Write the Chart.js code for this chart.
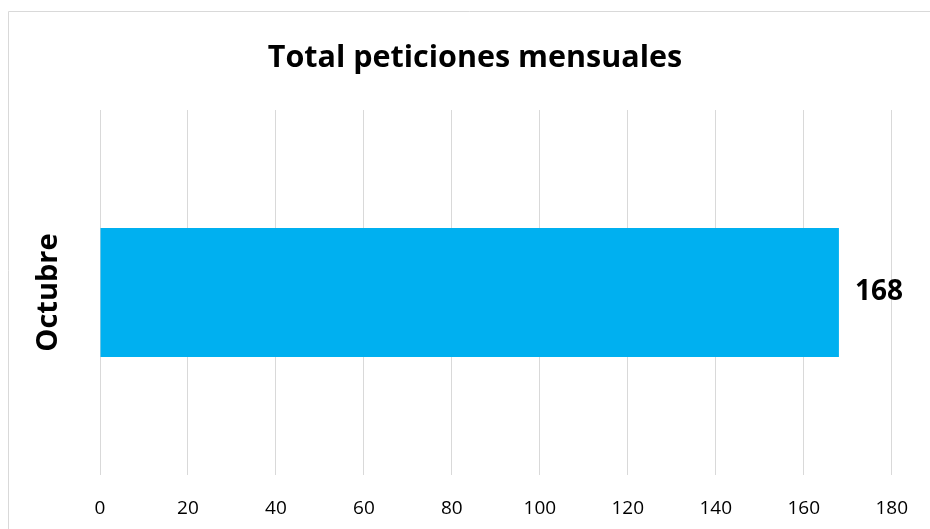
<!DOCTYPE html>
<html>
<head>
<meta charset="utf-8">
<script src="https://cdn.jsdelivr.net/npm/chart.js@4"></script>
<style>
  html, body { margin: 0; padding: 0; background: #fff; }
  #wrap { width: 930px; height: 529px; position: relative; }
</style>
</head>
<body>
<div id="wrap"><canvas id="c" width="930" height="529"></canvas></div>
<script>
const categories = ["Octubre"];
const values = [168];
const xTicks = { min: 0, max: 180, step: 20 };
const chartTitle = "Total peticiones mensuales";

const FONT = "'Open Sans', sans-serif";

const framePlugin = {
  id: 'frame',
  beforeDraw(chart) {
    const ctx = chart.ctx;
    ctx.save();
    ctx.strokeStyle = '#d9d9d9';
    ctx.lineWidth = 1;
    ctx.beginPath();
    ctx.moveTo(8.5, 529);
    ctx.lineTo(8.5, 11.5);
    ctx.lineTo(930, 11.5);
    ctx.stroke();
    ctx.restore();
  }
};

const labelPlugin = {
  id: 'labels',
  afterDatasetsDraw(chart) {
    const ctx = chart.ctx;
    const meta = chart.getDatasetMeta(0);
    const yScale = chart.scales.y;
    ctx.save();
    ctx.fillStyle = '#000';
    ctx.font = "bold 28px " + FONT;
    ctx.textAlign = 'left';
    ctx.textBaseline = 'middle';
    meta.data.forEach((bar, i) => {
      ctx.fillText(String(values[i]), bar.x + 16, bar.y);
    });
    ctx.font = "bold 29px " + FONT;
    categories.forEach((cat, i) => {
      const y = yScale.getPixelForValue(i);
      ctx.save();
      ctx.translate(49, y);
      ctx.rotate(-Math.PI / 2);
      ctx.textAlign = 'center';
      ctx.textBaseline = 'middle';
      ctx.fillText(cat, 0, 0);
      ctx.restore();
    });
    ctx.restore();
  }
};

new Chart(document.getElementById('c'), {
  type: 'bar',
  data: {
    labels: categories,
    datasets: [{
      data: values,
      backgroundColor: '#00B0F0',
      borderWidth: 0,
      barPercentage: 0.353,
      categoryPercentage: 1.0
    }]
  },
  options: {
    indexAxis: 'y',
    responsive: false,
    animation: false,
    devicePixelRatio: 1,
    layout: { padding: { left: 58, right: 38, top: 0, bottom: 0 } },
    plugins: {
      legend: { display: false },
      tooltip: { enabled: false },
      title: {
        display: true,
        text: chartTitle,
        color: '#000',
        font: { family: FONT, size: 30.5, weight: 'bold', lineHeight: 1.2 },
        padding: { top: 40.5, bottom: 32.9 }
      }
    },
    scales: {
      x: {
        min: xTicks.min,
        max: xTicks.max,
        afterFit(scale) { scale.height = 54; },
        ticks: {
          stepSize: xTicks.step,
          color: '#000',
          font: { family: FONT, size: 19, lineHeight: 1.2 },
          padding: 22,
          maxRotation: 0
        },
        grid: { color: '#d9d9d9', lineWidth: 1, drawTicks: false },
        border: { display: false }
      },
      y: {
        display: true,
        afterFit(scale) { scale.width = 42; },
        ticks: { display: false },
        grid: { display: false },
        border: { display: false }
      }
    }
  },
  plugins: [framePlugin, labelPlugin]
});
</script>
</body>
</html>
